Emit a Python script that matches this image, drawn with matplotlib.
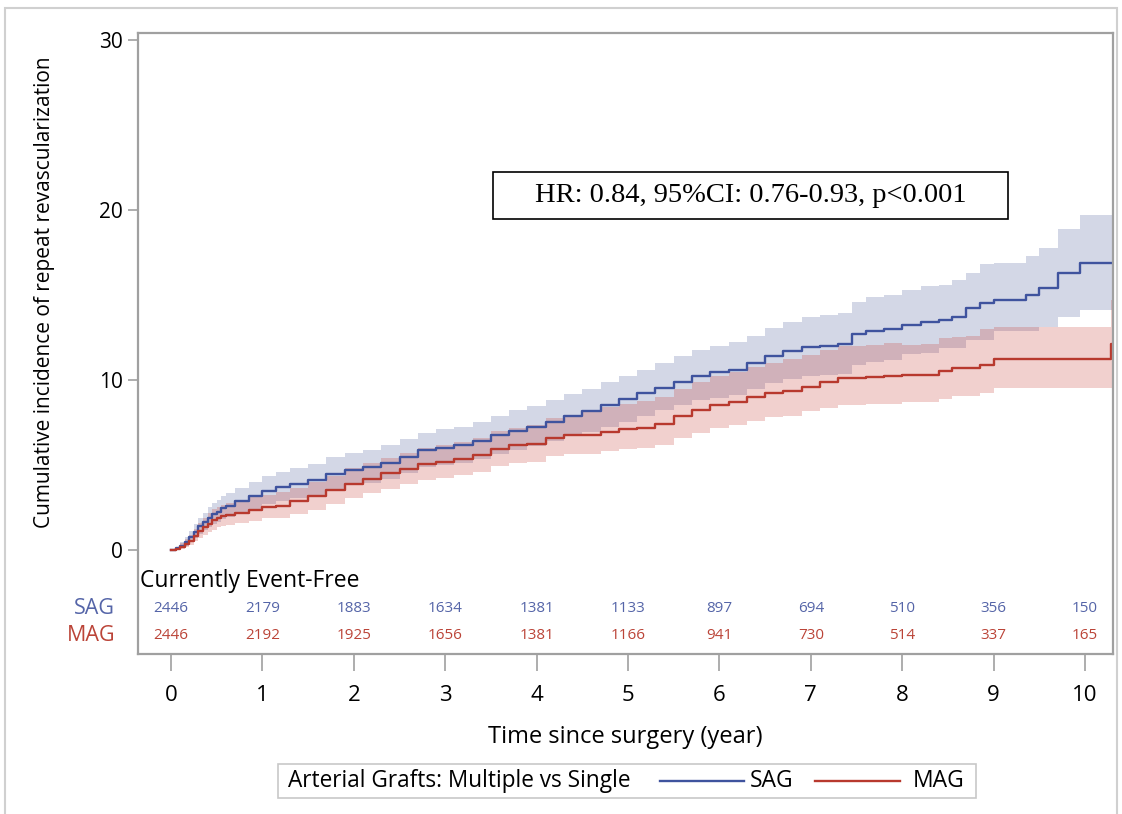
import matplotlib
matplotlib.use("Agg")
import matplotlib.pyplot as plt
from matplotlib.patches import Rectangle
from matplotlib.lines import Line2D

# Time grid (years) shared by both curves
t = [0, 0.05, 0.1, 0.15, 0.2, 0.25, 0.3, 0.35, 0.4, 0.45, 0.5, 0.55, 0.6, 0.7, 0.85,
     1.0, 1.15, 1.3, 1.5, 1.7, 1.9, 2.1, 2.3, 2.5, 2.7, 2.9, 3.1, 3.3, 3.5, 3.7,
     3.9, 4.1, 4.3, 4.5, 4.7, 4.9, 5.1, 5.3, 5.5, 5.7, 5.9, 6.1, 6.3, 6.5, 6.7,
     6.9, 7.1, 7.3, 7.45, 7.6, 7.8, 8.0, 8.2, 8.4, 8.55, 8.7, 8.85, 9.0, 9.35,
     9.5, 9.7, 9.95, 10.28, 10.31]

# SAG cumulative incidence and 95% CI
sag = [0, 0.1, 0.25, 0.45, 0.75, 1.05, 1.4, 1.65, 1.9, 2.1, 2.25, 2.45, 2.6, 2.85, 3.15,
       3.45, 3.7, 3.85, 4.1, 4.45, 4.7, 4.85, 5.1, 5.45, 5.85, 6.0, 6.15, 6.4, 6.75, 7.0,
       7.25, 7.55, 7.9, 8.15, 8.5, 8.85, 9.2, 9.55, 9.9, 10.25, 10.45, 10.6, 11.0, 11.4, 11.7,
       11.95, 12.0, 12.1, 12.7, 12.9, 13.0, 13.2, 13.4, 13.5, 13.7, 14.2, 14.5, 14.7, 15.0,
       15.4, 16.3, 16.9, 16.9, 16.9]
sag_hi = [0, 0.2, 0.45, 0.75, 1.1, 1.5, 1.9, 2.2, 2.5, 2.75, 2.95, 3.15, 3.35, 3.65, 4.0,
          4.35, 4.6, 4.8, 5.05, 5.45, 5.7, 5.85, 6.15, 6.5, 6.9, 7.1, 7.25, 7.55, 7.9, 8.2,
          8.45, 8.8, 9.15, 9.45, 9.85, 10.25, 10.6, 11.0, 11.4, 11.75, 12.0, 12.2, 12.6, 13.05, 13.4,
          13.7, 13.8, 13.95, 14.6, 14.85, 15.0, 15.3, 15.5, 15.6, 15.9, 16.3, 16.8, 16.9, 17.3,
          17.75, 18.9, 19.7, 19.7, 19.7]
sag_lo = [0, 0.02, 0.1, 0.25, 0.45, 0.7, 0.95, 1.15, 1.35, 1.5, 1.65, 1.8, 1.95, 2.15, 2.4,
          2.7, 2.9, 3.05, 3.25, 3.6, 3.8, 3.95, 4.15, 4.5, 4.85, 5.0, 5.1, 5.35, 5.65, 5.9,
          6.1, 6.4, 6.7, 6.95, 7.25, 7.55, 7.9, 8.2, 8.5, 8.8, 8.95, 9.1, 9.45, 9.8, 10.05,
          10.25, 10.3, 10.35, 10.9, 11.05, 11.15, 11.5, 11.6, 11.9, 11.9, 12.35, 12.35, 12.9, 12.9,
          13.1, 13.7, 14.1, 14.1, 14.1]

# MAG cumulative incidence and 95% CI
mag = [0, 0.05, 0.2, 0.35, 0.55, 0.8, 1.1, 1.35, 1.55, 1.75, 1.9, 2.0, 2.05, 2.2, 2.35,
       2.5, 2.6, 2.85, 3.15, 3.5, 3.9, 4.2, 4.5, 4.75, 5.05, 5.2, 5.35, 5.6, 5.95, 6.15,
       6.25, 6.6, 6.75, 6.75, 6.95, 7.1, 7.2, 7.4, 7.85, 8.2, 8.5, 8.7, 9.0, 9.2, 9.35,
       9.6, 9.85, 10.1, 10.1, 10.15, 10.2, 10.3, 10.3, 10.5, 10.7, 10.7, 10.9, 11.2, 11.2,
       11.2, 11.2, 11.2, 12.1, 12.1]
mag_hi = [0, 0.12, 0.4, 0.65, 0.9, 1.25, 1.6, 1.9, 2.15, 2.4, 2.55, 2.65, 2.75, 2.9, 3.1,
          3.25, 3.4, 3.65, 4.0, 4.35, 4.8, 5.1, 5.4, 5.7, 6.0, 6.2, 6.35, 6.6, 7.0, 7.2,
          7.35, 7.75, 7.95, 8.1, 8.4, 8.6, 8.75, 9.0, 9.45, 9.85, 10.2, 10.45, 10.75, 11.0, 11.2,
          11.45, 11.75, 12.0, 12.0, 12.05, 12.15, 12.05, 12.1, 12.45, 12.5, 12.6, 13.0, 13.1, 13.1,
          13.1, 13.1, 13.1, 14.7, 14.7]
mag_lo = [0, 0.0, 0.08, 0.18, 0.3, 0.5, 0.7, 0.9, 1.05, 1.2, 1.35, 1.4, 1.45, 1.6, 1.7,
          1.85, 1.9, 2.1, 2.35, 2.7, 3.05, 3.35, 3.6, 3.85, 4.1, 4.25, 4.4, 4.6, 4.95, 5.1,
          5.2, 5.5, 5.65, 5.65, 5.8, 5.95, 6.0, 6.2, 6.6, 6.9, 7.2, 7.35, 7.6, 7.8, 7.9,
          8.15, 8.35, 8.55, 8.55, 8.6, 8.6, 8.7, 8.7, 8.9, 9.05, 9.05, 9.2, 9.5, 9.5,
          9.5, 9.5, 9.5, 9.5, 9.5]

# Number at risk table
risk_times = [0, 1, 2, 3, 4, 5, 6, 7, 8, 9, 10]
sag_risk = [2446, 2179, 1883, 1634, 1381, 1133, 897, 694, 510, 356, 150]
mag_risk = [2446, 2192, 1925, 1656, 1381, 1166, 941, 730, 514, 337, 165]

SANS = ["Open Sans", "DejaVu Sans"]
SERIF = ["Liberation Serif", "DejaVu Serif"]
BLUE = "#3f539e"
RED = "#b8392e"
BLUE_TXT = "#5565a8"
RED_TXT = "#bb4438"
FRAME = "#a0a0a0"

plt.rcParams["font.family"] = SANS

fig = plt.figure(figsize=(11.22, 8.14), dpi=100)
ax = fig.add_axes([138 / 1122, 1 - 654 / 814, 975 / 1122, 621 / 814])

# Confidence bands then curves
ax.fill_between(t, sag_lo, sag_hi, step="post", color="#445694", alpha=0.23, lw=0)
ax.fill_between(t, mag_lo, mag_hi, step="post", color="#c83b32", alpha=0.24, lw=0)
ax.step(t, sag, where="post", color=BLUE, lw=1.7)
ax.step(t, mag, where="post", color=RED, lw=1.7)

ax.set_xlim(-0.361, 10.306)
ax.set_ylim(-6.12, 30.4)
ax.set_yticks([0, 10, 20, 30])
ax.set_xticks(risk_times)
ax.tick_params(axis="y", length=7, width=1.2, color=FRAME, labelsize=15, pad=4)
ax.tick_params(axis="x", length=12, width=1.2, color=FRAME, labelsize=16, pad=10)
for sp in ax.spines.values():
    sp.set_color(FRAME)
    sp.set_linewidth(1.6)

ax.set_xlabel("Time since surgery (year)", fontsize=17, labelpad=14)
fig.text(45 / 1122, 1 - 292 / 814, "Cumulative incidence of repeat revascularization",
         rotation=90, ha="center", va="center", fontsize=15)

# At-risk table inside the axes
ax.text(-0.34, -1.82, "Currently Event-Free", fontsize=16.5, ha="left", va="center")
ax.text(-0.61, -3.47, "SAG", color=BLUE_TXT, fontsize=15.5, ha="right", va="center", clip_on=False)
ax.text(-0.61, -5.06, "MAG", color=RED_TXT, fontsize=15.5, ha="right", va="center", clip_on=False)
for x, n1, n2 in zip(risk_times, sag_risk, mag_risk):
    ax.text(x, -3.47, str(n1), color=BLUE_TXT, fontsize=11, ha="center", va="center")
    ax.text(x, -5.06, str(n2), color=RED_TXT, fontsize=11, ha="center", va="center")

# HR annotation box
fig.patches.append(Rectangle((493 / 1122, 1 - 219 / 814), 515 / 1122, 47 / 814,
                             transform=fig.transFigure, fill=False, ec="black", lw=1.2))
fig.text(750.5 / 1122, 1 - 196 / 814, "HR: 0.84, 95%CI: 0.76-0.93, p<0.001",
         family=SERIF, fontsize=20.5, ha="center", va="center")

# Legend at the bottom
fig.patches.append(Rectangle((278 / 1122, 1 - 798 / 814), 698 / 1122, 34 / 814,
                             transform=fig.transFigure, fill=False, ec="#c8c8c8", lw=1.2))
ly = 1 - 781 / 814
fig.text(288 / 1122, ly, "Arterial Grafts: Multiple vs Single", fontsize=16.3,
         ha="left", va="center")
fig.lines.append(Line2D([660 / 1122, 744 / 1122], [ly, ly], transform=fig.transFigure,
                        color=BLUE, lw=1.7))
fig.text(750 / 1122, ly, "SAG", fontsize=16.5, ha="left", va="center")
fig.lines.append(Line2D([815 / 1122, 900 / 1122], [ly, ly], transform=fig.transFigure,
                        color=RED, lw=1.7))
fig.text(913 / 1122, ly, "MAG", fontsize=16.5, ha="left", va="center")

# Outer frame around the whole graph
fig.patches.append(Rectangle((5 / 1122, -0.02), 1112 / 1122, 1 - 8 / 814 + 0.02,
                             transform=fig.transFigure, fill=False, ec="#d0d0d0", lw=1.5))

fig.savefig("out.png", dpi=100)
